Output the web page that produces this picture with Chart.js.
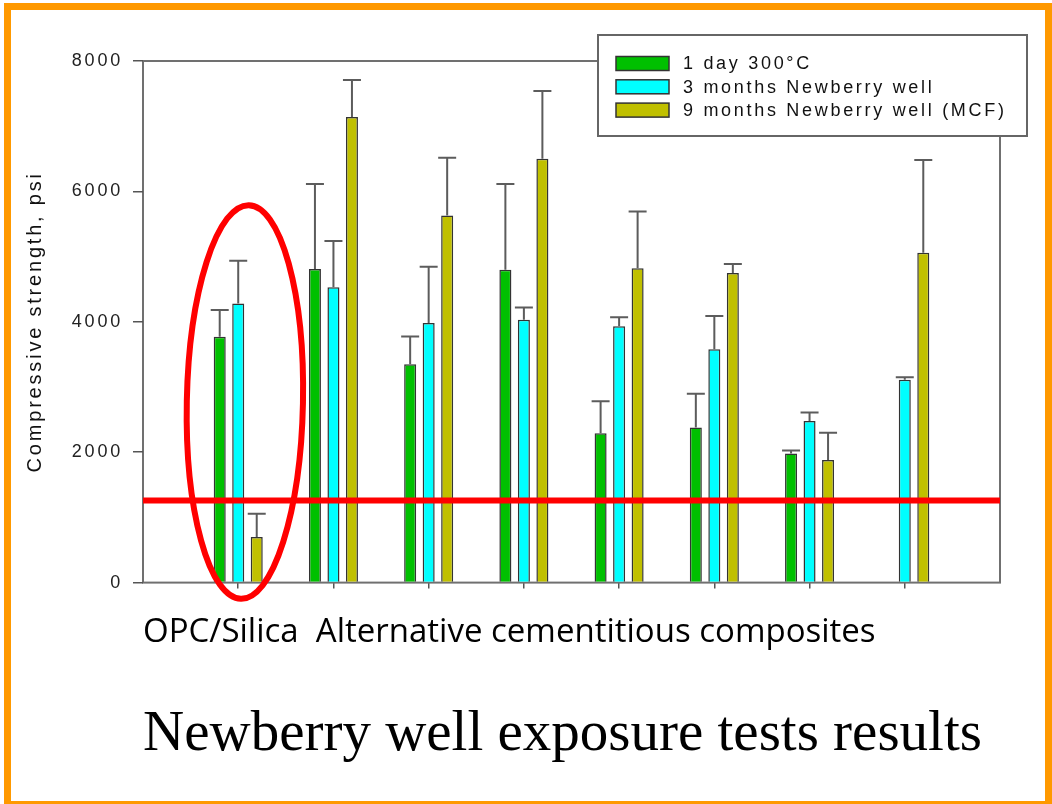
<!DOCTYPE html>
<html>
<head>
<meta charset="utf-8">
<script src="https://cdn.jsdelivr.net/npm/chart.js@4/dist/chart.umd.min.js"></script>
<style>
  html, body { margin: 0; padding: 0; background: #fff; overflow: hidden; }
  #wrap { position: relative; width: 1052px; height: 804px; }
  #wrap canvas { position: absolute; left: 0; top: 0; }
  #slideFrame {
    position: absolute; left: 4px; top: 3px; width: 1048px; height: 805px;
    border: 7px solid #FF9900; box-sizing: border-box; pointer-events: none;
  }
</style>
</head>
<body>
<div id="wrap">
  <canvas id="chart" width="1052" height="804"></canvas>
  <div id="slideFrame"></div>
</div>
<script>
// Compressive strength (psi) per cement formulation, mean and upper error
const samples        = ['Mix 1', 'Mix 2', 'Mix 3', 'Mix 4', 'Mix 5', 'Mix 6', 'Mix 7', 'Mix 8'];
const oneDay300C     = [3770, 4810, 3350, 4800, 2290, 2380, 1980, null];
const oneDay300CErr  = [410, 1305, 425, 1315, 490, 515, 45, null];
const threeMonths    = [4280, 4530, 3980, 4030, 3930, 3580, 2480, 3110];
const threeMonthsErr = [655, 710, 865, 190, 140, 510, 130, 40];
const nineMonths     = [700, 7140, 5630, 6500, 4820, 4750, 1880, 5060];
const nineMonthsErr  = [355, 570, 885, 1040, 870, 135, 420, 1420];
const seriesLabels   = ['1 day 300°C', '3 months Newberry well', '9 months Newberry well (MCF)'];
const yTickValues    = [0, 2000, 4000, 6000, 8000];
const thresholdPsi   = 1260;

// Highlight ring around the OPC/Silica group (x in sample units, y in psi)
const ring = { cx: 1.07, cy: 2770, rx: 0.61, ry: 3020, tilt: 0.02 };

const toPoints = (vals) => vals.map((v, i) => ({ x: i + 1, y: v }));

const data = {
  datasets: [
    {
      type: 'line',
      label: 'threshold',
      data: [{ x: 0, y: thresholdPsi }, { x: samples.length + 1, y: thresholdPsi }],
      borderColor: '#FF0000',
      borderWidth: 6,
      pointRadius: 0,
      order: -1
    },
    { label: seriesLabels[0], data: toPoints(oneDay300C),  errors: oneDay300CErr,  backgroundColor: '#00C000' },
    { label: seriesLabels[1], data: toPoints(threeMonths), errors: threeMonthsErr, backgroundColor: '#00FFFF' },
    { label: seriesLabels[2], data: toPoints(nineMonths),  errors: nineMonthsErr,  backgroundColor: '#C0C000' }
  ]
};
data.datasets.slice(1).forEach(ds => {
  ds.borderColor = '#333333';
  ds.borderWidth = 1.5;
  ds.categoryPercentage = 0.583;
  ds.barPercentage = 0.65;
});

// Plot frame + spacing for the wide-set axis lettering
const plotFrame = {
  id: 'plotFrame',
  beforeDraw(chart) {
    chart.ctx.letterSpacing = '0px';
  },
  beforeDatasetsDraw(chart) {
    const { ctx, chartArea: a } = chart;
    ctx.save();
    ctx.strokeStyle = '#707070';
    ctx.lineWidth = 2;
    ctx.strokeRect(a.left, a.top, a.right - a.left, a.bottom - a.top);
    ctx.restore();
    ctx.letterSpacing = '2.8px';
  }
};

// Upper error bars and the highlight ring
const errorBars = {
  id: 'errorBars',
  afterDatasetsDraw(chart) {
    const { ctx } = chart;
    const xs = chart.scales.x, ys = chart.scales.y;
    ctx.save();
    ctx.strokeStyle = '#5c5c5c';
    ctx.lineWidth = 2;
    chart.data.datasets.forEach((ds, di) => {
      if (!ds.errors) return;
      const meta = chart.getDatasetMeta(di);
      meta.data.forEach((bar, i) => {
        const v = ds.data[i].y, e = ds.errors[i];
        if (v == null || e == null) return;
        const top = ys.getPixelForValue(v + e);
        ctx.beginPath();
        ctx.moveTo(bar.x, bar.y);
        ctx.lineTo(bar.x, top);
        ctx.moveTo(bar.x - 9, top);
        ctx.lineTo(bar.x + 9, top);
        ctx.stroke();
      });
    });
    const cx = xs.getPixelForValue(ring.cx), cy = ys.getPixelForValue(ring.cy);
    const rx = xs.getPixelForValue(ring.cx + ring.rx) - cx;
    const ry = cy - ys.getPixelForValue(ring.cy + ring.ry);
    ctx.strokeStyle = '#FF0000';
    ctx.lineWidth = 6;
    ctx.beginPath();
    ctx.ellipse(cx, cy, rx, ry, ring.tilt, 0, Math.PI * 2);
    ctx.stroke();
    ctx.restore();
  }
};

// Boxed legend in the upper right
const legendBox = {
  id: 'legendBox',
  afterDraw(chart) {
    const { ctx } = chart;
    const left = 598, top = 35, w = 429, h = 101;
    ctx.save();
    ctx.letterSpacing = '2.7px';
    ctx.fillStyle = '#ffffff';
    ctx.fillRect(left, top, w, h);
    ctx.strokeStyle = '#666666';
    ctx.lineWidth = 2;
    ctx.strokeRect(left, top, w, h);
    ctx.font = '18px "Liberation Sans", Arial, sans-serif';
    ctx.textBaseline = 'middle';
    chart.data.datasets.filter(ds => ds.errors).forEach((ds, i) => {
      const rowY = 63.5 + i * 23.3;
      ctx.fillStyle = ds.backgroundColor;
      ctx.fillRect(616, rowY - 7, 53, 14);
      ctx.strokeStyle = '#333333';
      ctx.lineWidth = 1.5;
      ctx.strokeRect(616, rowY - 7, 53, 14);
      ctx.fillStyle = '#111111';
      ctx.fillText(ds.label, 683, rowY + 1);
    });
    ctx.restore();
  }
};

new Chart(document.getElementById('chart'), {
  type: 'bar',
  data,
  plugins: [plotFrame, errorBars, legendBox],
  options: {
    responsive: false,
    animation: false,
    devicePixelRatio: 1,
    layout: { padding: { left: 0, right: 52, top: 61, bottom: 35 } },
    plugins: {
      legend: { display: false },
      tooltip: { enabled: false },
      title: {
        display: true,
        position: 'bottom',
        align: 'start',
        fullSize: false,
        text: 'Newberry well exposure tests results',
        color: '#000000',
        font: { family: '"Liberation Serif", "Times New Roman", serif', size: 57, weight: 'normal' },
        padding: { top: 48, bottom: 0 }
      }
    },
    scales: {
      x: {
        type: 'linear',
        min: 0,
        max: samples.length + 1,
        offset: false,
        afterBuildTicks: (scale) => { scale.ticks = samples.map((_, i) => ({ value: i + 1 })); },
        afterFit: (scale) => { scale.height = 70; },
        grid: { display: true, drawOnChartArea: false, drawTicks: true, tickLength: 6, color: '#555555', lineWidth: 1.5, offset: false },
        border: { display: false },
        ticks: { display: false },
        title: {
          display: true,
          align: 'start',
          text: 'OPC/Silica  Alternative cementitious composites',
          color: '#000000',
          font: { family: '"Open Sans", "Noto Sans", sans-serif', size: 33 },
          padding: { top: 0, bottom: 0 }
        }
      },
      y: {
        min: 0,
        max: 8000,
        afterBuildTicks: (scale) => { scale.ticks = yTickValues.map(v => ({ value: v })); },
        afterFit: (scale) => { scale.width = 143; },
        grid: { display: true, drawOnChartArea: false, drawTicks: true, tickLength: 10, color: '#555555', lineWidth: 1.5, z: 1 },
        border: { display: false },
        ticks: {
          z: 1,
          padding: 10,
          color: '#222222',
          font: { family: '"Liberation Sans", Arial, sans-serif', size: 18 },
          callback: (v) => String(v)
        },
        title: {
          display: true,
          text: 'Compressive strength, psi',
          color: '#111111',
          font: { family: '"Liberation Sans", Arial, sans-serif', size: 20 },
          padding: { top: 23, bottom: 0 }
        }
      }
    }
  }
});
</script>
</body>
</html>
